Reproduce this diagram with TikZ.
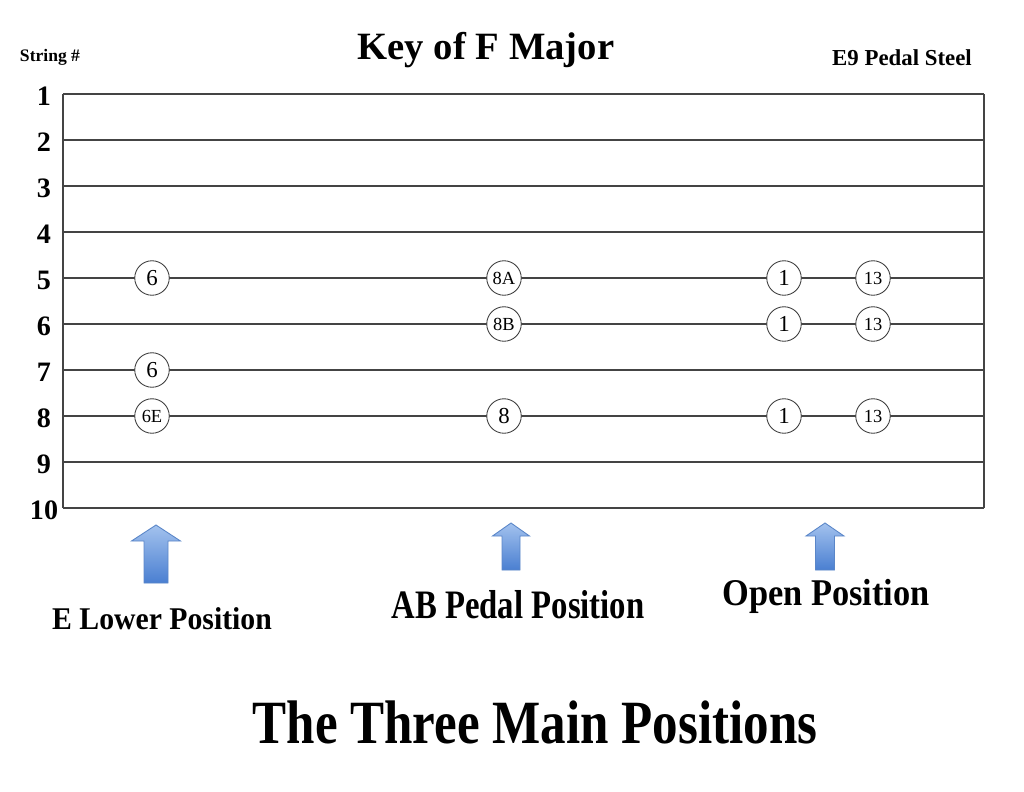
\documentclass[tikz,border=0pt]{standalone}
\usepackage{fontspec}
\setmainfont{Liberation Serif}
\usetikzlibrary{positioning}

\definecolor{arrowtop}{HTML}{A3C2EE}
\definecolor{arrowbot}{HTML}{4A7FD1}
\definecolor{arrowedge}{HTML}{5A86C8}
\definecolor{stringcol}{HTML}{444444}

\tikzset{
  fret/.style={circle, draw=black!75, fill=white, line width=0.5pt, minimum size=0.69cm,
    inner sep=0pt, font=\fontsize{13}{13}\selectfont},
  smallfret/.style={fret, font=\fontsize{10.5}{10.5}\selectfont},
  strnum/.style={font=\bfseries\fontsize{16}{16}\selectfont},
  string/.style={draw=stringcol, line width=0.9pt},
  uparrow/.style={draw=arrowedge, line width=0.5pt, top color=arrowtop, bottom color=arrowbot}
}

\begin{document}
\begin{tikzpicture}[x=0.02cm,y=-0.02cm]
\useasboundingbox (0,0) rectangle (1024,791);
% headings
\node[font=\bfseries\fontsize{10}{10}\selectfont] (strhead) at (50,57) {String \#};
\node[font=\bfseries\fontsize{22}{22}\selectfont] (keyname) at (486,50) {Key of F Major};
\node[font=\bfseries\fontsize{13}{13}\selectfont] (tuning) at (902,58) {E9 Pedal Steel};
% strings 1..10
\foreach \s in {1,...,10} {
  \pgfmathsetmacro\yy{94+(\s-1)*46}
  \node[strnum] (n\s) at (44,\yy+2) {\s};
  \coordinate (l\s) at (63,\yy);
  \coordinate (r\s) at (984,\yy);
  \draw[string] (l\s) -- (r\s);
}
\draw[string] (l1) -- (l10);
\draw[string] (r1) -- (r10);
% columns
\coordinate (cE) at (152,0);
\coordinate (cAB) at (504,0);
\coordinate (cO) at (784,0);
\coordinate (cT) at (873,0);
% E lower position
\node[fret] (fE5) at (cE |- l5) {6};
\node[fret] (fE7) at (cE |- l7) {6};
\node[smallfret] (fE8) at (cE |- l8) {6E};
% AB pedal position
\node[smallfret] (fAB5) at (cAB |- l5) {8A};
\node[smallfret] (fAB6) at (cAB |- l6) {8B};
\node[fret] (fAB8) at (cAB |- l8) {8};
% open position
\node[fret] (fO5) at (cO |- l5) {1};
\node[fret] (fO6) at (cO |- l6) {1};
\node[fret] (fO8) at (cO |- l8) {1};
\node[smallfret] (fT5) at (cT |- l5) {13};
\node[smallfret] (fT6) at (cT |- l6) {13};
\node[smallfret] (fT8) at (cT |- l8) {13};
% arrows
\shade[uparrow] (156,525) -- (180.5,541) -- (168,541) -- (168,583) -- (144,583) -- (144,541) -- (131.5,541) -- cycle;
\shade[uparrow] (511,523) -- (529.5,536) -- (520,536) -- (520,570) -- (502,570) -- (502,536) -- (492.5,536) -- cycle;
\shade[uparrow] (825,523) -- (844,536) -- (834.5,536) -- (834.5,570) -- (815.5,570) -- (815.5,536) -- (806,536) -- cycle;
% position labels
\node[font=\bfseries\fontsize{18}{18}\selectfont] (lblE) at (162,619) {\scalebox{0.94}[1]{E Lower Position}};
\node[font=\bfseries\fontsize{23}{23}\selectfont] (lblAB) at (518,605) {\scalebox{0.81}[1]{AB Pedal Position}};
\node[font=\bfseries\fontsize{21.5}{21.5}\selectfont] (lblO) at (826,596) {\scalebox{0.91}[1]{Open Position}};
% title
\node[font=\bfseries\fontsize{35}{35}\selectfont] (title) at (535,722) {\scalebox{0.83}[1]{The Three Main Positions}};
\end{tikzpicture}
\end{document}
